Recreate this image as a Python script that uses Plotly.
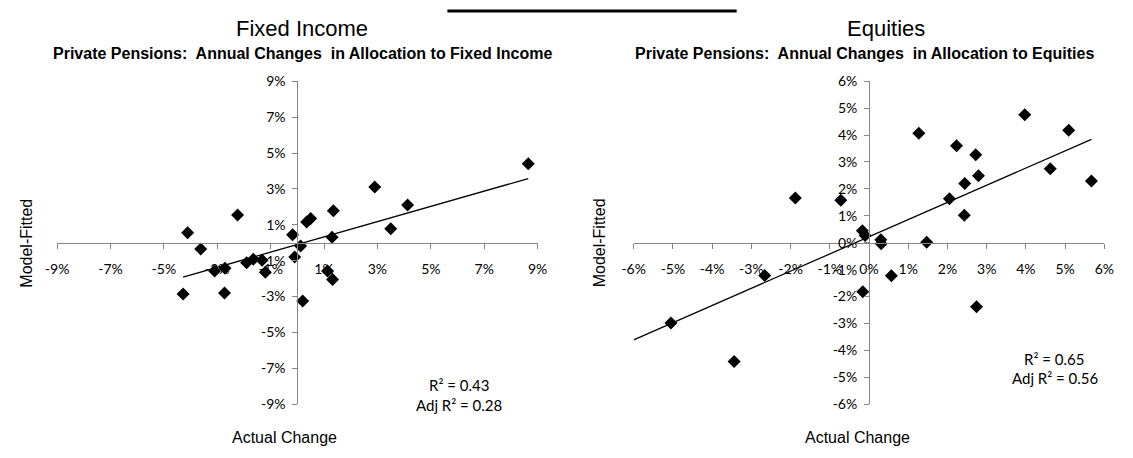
import numpy as np
import plotly.graph_objects as go

# ---------------- data (percent) ----------------
fi_actual = [8.65, 2.90, 4.13, 1.35, 0.50, 0.35, -2.24, 3.50, -4.11, -0.18, 1.30, -3.62, 0.12,
             -0.10, -1.65, -1.90, -1.32, -3.10, -2.71, -1.20, 1.13, 1.32, -4.28, -2.73, 0.20]
fi_fitted = [4.40, 3.10, 2.10, 1.78, 1.35, 1.15, 1.55, 0.78, 0.55, 0.45, 0.30, -0.35, -0.18,
             -0.80, -0.92, -1.12, -0.97, -1.58, -1.42, -1.65, -1.57, -2.05, -2.85, -2.80, -3.25]

eq_actual = [3.97, 5.09, 1.27, 2.23, 2.72, 2.79, 2.44, 4.62, 5.67, 2.05, 2.43, -1.88,
             -0.72, -0.17, -0.10, 0.30, 0.31, 1.47, -2.66, 0.57, -0.16, 2.74, -5.05, -3.44]
eq_fitted = [4.75, 4.18, 4.07, 3.60, 3.27, 2.49, 2.20, 2.75, 2.29, 1.63, 1.02, 1.66,
             1.58, 0.45, 0.27, 0.11, -0.04, 0.02, -1.22, -1.23, -1.82, -2.38, -2.98, -4.41]

fi_ticks = [-9, -7, -5, -3, -1, 1, 3, 5, 7, 9]
eq_ticks = [-6, -5, -4, -3, -2, -1, 0, 1, 2, 3, 4, 5, 6]
fi_tick_labels = [f"{v}%" for v in fi_ticks]
eq_tick_labels = [f"{v}%" for v in eq_ticks]

fi_range = [-9, 9]
eq_range = [-6, 6]

fi_stats = ["R² = 0.43", "Adj R² = 0.28"]
eq_stats = ["R² = 0.65", "Adj R² = 0.56"]

titles = ["Fixed Income", "Equities"]
subtitles = ["Private Pensions:  Annual Changes  in Allocation to Fixed Income",
             "Private Pensions:  Annual Changes  in Allocation to Equities"]
x_title = "Actual Change"
y_title = "Model-Fitted"

# ---------------- layout helpers ----------------
W, H = 1133, 458
def px(x):
    return x / W
def py(y):
    return 1 - y / H

left_dom = [px(46), px(536)]
right_dom = [px(634), px(1114)]
y_dom = [py(410.5), py(75)]
y_mid = (y_dom[0] + y_dom[1]) / 2

AXIS_COL = "#868686"
TICK_FONT = dict(family="Lato, Liberation Sans, sans-serif", size=14, color="#000000")
ARIAL = "Liberation Sans, Arial, sans-serif"

fig = go.Figure()

# trend lines (least-squares fit)
fi_coef = np.polyfit(fi_actual, fi_fitted, 1)
fi_tx = np.array([min(fi_actual), max(fi_actual)])
eq_coef = np.polyfit(eq_actual, eq_fitted, 1)
eq_tx = np.array([eq_range[0], max(eq_actual)])

fig.add_trace(go.Scatter(x=fi_tx, y=np.polyval(fi_coef, fi_tx), mode="lines",
                         line=dict(color="black", width=1.3), xaxis="x", yaxis="y",
                         hoverinfo="skip"))
fig.add_trace(go.Scatter(x=fi_actual, y=fi_fitted, mode="markers",
                         marker=dict(symbol="diamond", size=10, color="black"),
                         xaxis="x", yaxis="y"))
fig.add_trace(go.Scatter(x=eq_tx, y=np.polyval(eq_coef, eq_tx), mode="lines",
                         line=dict(color="black", width=1.3), xaxis="x2", yaxis="y2",
                         hoverinfo="skip"))
fig.add_trace(go.Scatter(x=eq_actual, y=eq_fitted, mode="markers",
                         marker=dict(symbol="diamond", size=10, color="black"),
                         xaxis="x2", yaxis="y2"))

def xaxis_cfg(dom, rng, ticks, labels):
    return dict(domain=dom, range=rng, anchor="free", position=y_mid,
                tickmode="array", tickvals=ticks, ticktext=labels,
                showline=True, linecolor=AXIS_COL, linewidth=1,
                ticks="outside", ticklen=5, tickcolor=AXIS_COL, tickwidth=1,
                ticklabelstandoff=8,
                showgrid=False, zeroline=False, tickfont=TICK_FONT, fixedrange=True)

def yaxis_cfg(rng, ticks, labels, xpos):
    return dict(domain=y_dom, range=rng, anchor="free", position=xpos,
                tickmode="array", tickvals=ticks, ticktext=labels,
                showline=True, linecolor=AXIS_COL, linewidth=1,
                ticks="outside", ticklen=5, tickcolor=AXIS_COL, tickwidth=1,
                ticklabelstandoff=4,
                showgrid=False, zeroline=False, tickfont=TICK_FONT, fixedrange=True)

left_zero = left_dom[0] + (0 - fi_range[0]) / (fi_range[1] - fi_range[0]) * (left_dom[1] - left_dom[0])
right_zero = right_dom[0] + (0 - eq_range[0]) / (eq_range[1] - eq_range[0]) * (right_dom[1] - right_dom[0])

fig.update_layout(
    width=W, height=H,
    margin=dict(l=0, r=0, t=0, b=0),
    paper_bgcolor="white", plot_bgcolor="white",
    showlegend=False,
    xaxis=xaxis_cfg(left_dom, fi_range, fi_ticks, fi_tick_labels),
    yaxis=yaxis_cfg(fi_range, fi_ticks, fi_tick_labels, left_zero),
    xaxis2=xaxis_cfg(right_dom, eq_range, eq_ticks, eq_tick_labels),
    yaxis2=yaxis_cfg(eq_range, eq_ticks, eq_tick_labels, right_zero),
)

ann = []
title_x = (296, 891)
sub_x = (296, 869)
for i in range(2):
    ann.append(dict(text=titles[i], x=px(title_x[i]), y=py(20), xref="paper", yref="paper",
                    showarrow=False, font=dict(family=ARIAL, size=22, color="black"),
                    xanchor="center", yanchor="middle"))
    ann.append(dict(text="<b>" + subtitles[i] + "</b>", x=px(sub_x[i]), y=py(46),
                    xref="paper", yref="paper", showarrow=False,
                    font=dict(family=ARIAL, size=16, color="black"),
                    xanchor="center", yanchor="middle"))

for xc in (278, 862):
    ann.append(dict(text=x_title, x=px(xc), y=py(445), xref="paper", yref="paper",
                    showarrow=False, font=dict(family=ARIAL, size=16, color="black"),
                    xanchor="center", yanchor="middle"))
for xc in (15, 600):
    ann.append(dict(text=y_title, x=px(xc), y=py(243), xref="paper", yref="paper",
                    showarrow=False, textangle=-90,
                    font=dict(family=ARIAL, size=16, color="black"),
                    xanchor="center", yanchor="middle"))

stat_font = dict(family="Lato, Liberation Sans, sans-serif", size=15, color="black")
for txt, (xc, yc) in zip(fi_stats, [(456, 390), (456, 411)]):
    ann.append(dict(text=txt, x=px(xc), y=py(yc), xref="paper", yref="paper", showarrow=False,
                    font=stat_font, xanchor="center", yanchor="middle"))
for txt, (xc, yc) in zip(eq_stats, [(1063, 363), (1064, 383)]):
    ann.append(dict(text=txt, x=px(xc), y=py(yc), xref="paper", yref="paper", showarrow=False,
                    font=stat_font, xanchor="center", yanchor="middle"))

fig.update_layout(annotations=ann)

# decorative rule at the top
fig.add_shape(type="line", xref="paper", yref="paper", x0=px(444), x1=px(739), y0=py(2), y1=py(2),
              line=dict(color="black", width=3))

fig.write_html("out.html", config={"displayModeBar": False},
               post_script="document.body.style.margin='0';")
